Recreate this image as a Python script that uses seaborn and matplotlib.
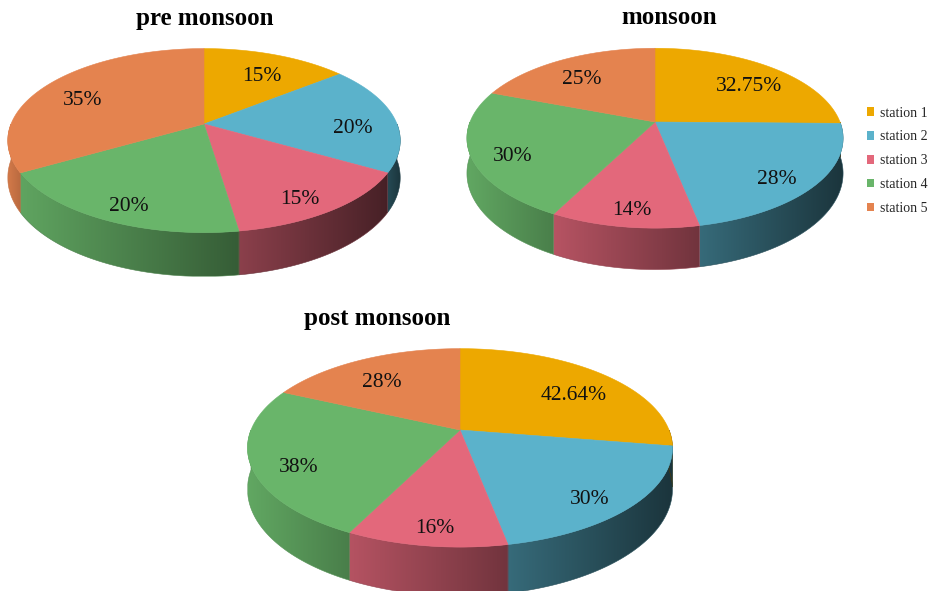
import numpy as np
import matplotlib
matplotlib.use("Agg")
import matplotlib.pyplot as plt
import seaborn as sns
from matplotlib.collections import PolyCollection
from matplotlib.patches import Patch, Polygon
from matplotlib.colors import to_rgb

# ---------------- data ----------------
stations = ["station 1", "station 2", "station 3", "station 4", "station 5"]
pre_monsoon = [15, 20, 15, 20, 35]
monsoon = [32.75, 28, 14, 30, 25]
post_monsoon = [42.64, 30, 16, 38, 28]
pre_labels = ["15%", "20%", "15%", "20%", "35%"]
monsoon_labels = ["32.75%", "28%", "14%", "30%", "25%"]
post_labels = ["42.64%", "30%", "16%", "38%", "28%"]
titles = ["pre monsoon", "monsoon", "post monsoon"]

sns.set_theme(style="white")
palette = sns.color_palette(["#EDA800", "#5BB2CB", "#E3687B", "#69B56A", "#E4834F"])
plt.rcParams['font.family'] = ['Liberation Serif', 'DejaVu Serif']

fig = plt.figure(figsize=(9.31, 5.91), dpi=100)
ax = fig.add_axes([0, 0, 1, 1])
ax.axis('off')

K = 0.18  # perspective strength


def project(cx, cy, rx, ry, a, b, h=0.0):
    zc = 1 + K * b
    return cx + rx * a / zc, cy - ry * b / zc + h / zc


def draw_pie(values, labels, cx, cy, rx, ry, depth, title, tx, ty):
    vals = np.asarray(values, dtype=float)
    fr = vals / vals.sum()
    edges = np.concatenate([[0], np.cumsum(fr)]) * 2 * np.pi
    # side walls with horizontal shading gradient
    for i in range(len(vals)):
        t0 = max(edges[i], np.pi / 2)
        t1 = min(edges[i + 1], 3 * np.pi / 2)
        if t1 <= t0:
            continue
        ts = np.linspace(t0, t1, 300)
        top = [project(cx, cy, rx, ry, np.sin(t), np.cos(t)) for t in ts]
        bot = [project(cx, cy, rx, ry, np.sin(t), np.cos(t), depth) for t in ts]
        pts = np.array(top + bot[::-1])
        xmin, xmax = pts[:, 0].min(), pts[:, 0].max()
        ymin, ymax = pts[:, 1].min(), pts[:, 1].max()
        xs = np.linspace(xmin, xmax, 200)
        xn = (xs - cx) / rx
        loc = (xs - xmin) / max(xmax - xmin, 1e-6)
        f = np.clip(0.66 - 0.26 * xn - 0.10 * loc, 0.3, 0.95)
        base = np.array(to_rgb(palette[i]))
        img = (f[:, None] * base[None, :])[None, :, :]
        poly = Polygon(pts, closed=True, facecolor='none', edgecolor='none', transform=ax.transData)
        ax.add_patch(poly)
        im = ax.imshow(img, extent=[xmin, xmax, ymax, ymin], aspect='auto',
                       interpolation='bilinear', zorder=1)
        im.set_clip_path(poly)
        # soft outline to smooth clipped edges
        ax.add_patch(Polygon(pts, closed=True, facecolor='none',
                             edgecolor=tuple(base * float(np.mean(f))), linewidth=0.4, zorder=1.1))
    # top surface
    tops = []
    for i in range(len(vals)):
        ts = np.linspace(edges[i], edges[i + 1], 200)
        pts = [(cx, cy)] + [project(cx, cy, rx, ry, np.sin(t), np.cos(t)) for t in ts]
        tops.append(pts)
    tc = PolyCollection(tops, facecolors=palette, edgecolors=palette, linewidths=0.4, zorder=2)
    ax.add_collection(tc)
    # labels
    for i in range(len(vals)):
        tm = 0.5 * (edges[i] + edges[i + 1])
        r = 0.78
        x, y = project(cx, cy, rx, ry, r * np.sin(tm), r * np.cos(tm), 0.26 * depth)
        ax.text(x, y, labels[i], ha='center', va='center', fontsize=15.5, color='#111111', zorder=3)
    ax.text(tx, ty, title, ha='center', va='center', fontsize=18, fontweight='bold', color='black')


draw_pie(pre_monsoon, pre_labels, 204, 124, 193, 89, 36, titles[0], 205, 18)
draw_pie(monsoon, monsoon_labels, 655, 122, 185, 87, 34, titles[1], 669, 18)
draw_pie(post_monsoon, post_labels, 460, 430, 209, 96, 40, titles[2], 377, 318)

ax.set_xlim(0, 931)
ax.set_ylim(591, 0)
ax.set_aspect('auto')

handles = [Patch(facecolor=palette[i], edgecolor='none', label=stations[i]) for i in range(len(stations))]
fig.legend(handles=handles, loc='center left', bbox_to_anchor=(0.925, 0.728), frameon=False,
           handlelength=0.55, handleheight=0.55, handletextpad=0.4, labelspacing=0.78,
           fontsize=10, borderaxespad=0)

fig.savefig("out.png", dpi=100)
